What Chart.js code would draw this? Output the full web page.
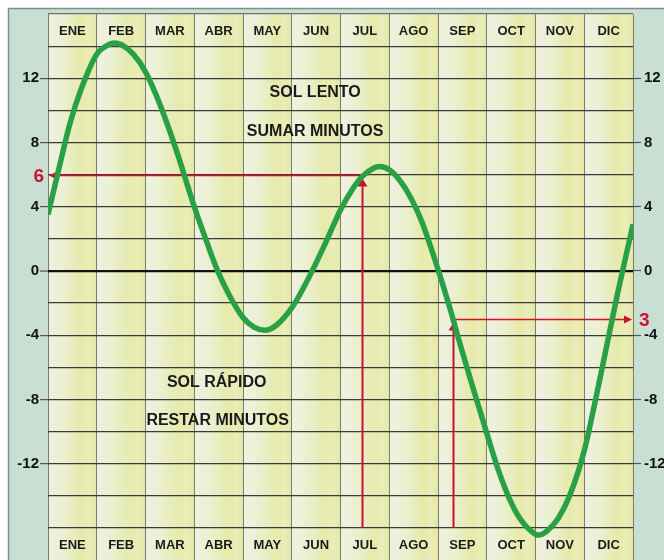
<!DOCTYPE html>
<html><head><meta charset="utf-8">
<script src="https://cdn.jsdelivr.net/npm/chart.js@4/dist/chart.umd.min.js"></script>
<style>html,body{margin:0;padding:0;background:#fff}canvas{display:block}</style>
</head><body>
<canvas id="c" width="664" height="560"></canvas>
<script>
// ---- data ----
const months = ['ENE','FEB','MAR','ABR','MAY','JUN','JUL','AGO','SEP','OCT','NOV','DIC'];
// position along the year in months (0 = 1 ENE, 12 = 31 DIC)
const curveMonth = [0,0.226,0.452,0.677, 1,1.25,1.357,1.5,1.75, 2,2.226,2.452,2.677, 3,3.233,3.467,3.7,
  4,4.226,4.452,4.677, 5,5.233,5.467,5.7, 6,6.226,6.452,6.677,6.806, 7,7.226,7.452,7.677,
  8,8.233,8.467,8.7, 9,9.226,9.452,9.677, 10,10.067,10.233,10.467,10.7, 11,11.226,11.452,11.677,12];
// equation of time, minutes (positive = sol lento)
const curveMinutes = [3.5,6.4,9.2,11.3, 13.5,14.1,14.2,14.1,13.5, 12.4,10.9,9.1,7.1, 4.0,2.0,0.1,-1.4,
  -2.9,-3.5,-3.7,-3.4, -2.3,-1.1,0.3,1.8, 3.8,5.0,5.9,6.4,6.5, 6.3,5.6,4.5,3.0,
  0.1,-2.2,-4.7,-7.1, -10.1,-12.3,-14.1,-15.4, -16.4,-16.45,-16.2,-15.4,-14.0, -11.2,-8.1,-4.8,-1.5,2.9];
const yTickLabels = [12,8,4,0,-4,-8,-12];
// example readings (red arrows)
const readMonth = [6.44, 8.3];
const readMinutes = [6, -3];
const readLabels = ['6','3'];
// notes
const noteText = ['SOL LENTO','SUMAR MINUTOS','SOL RÁPIDO','RESTAR MINUTOS'];
const noteMonth = [5.48, 5.48, 3.46, 3.48];
const noteMinutes = [11.1, 8.7, -6.95, -9.3];

const FONT = '"Liberation Sans", Arial, Helvetica, sans-serif';
const RED = '#cc1030';

const bgPlugin = {
  id: 'bg',
  beforeDraw(chart) {
    const {ctx, chartArea: a, scales: {x}} = chart;
    ctx.save();
    ctx.fillStyle = '#fff'; ctx.fillRect(0, 0, chart.width, chart.height);
    ctx.fillStyle = '#c9dfd3'; ctx.fillRect(8, 8, chart.width - 8, chart.height - 8);
    ctx.strokeStyle = '#7f8f88'; ctx.lineWidth = 1.5;
    ctx.beginPath(); ctx.moveTo(8.5, chart.height); ctx.lineTo(8.5, 8.5); ctx.lineTo(chart.width, 8.5); ctx.stroke();
    for (let i = 0; i < months.length; i++) {
      const x0 = x.getPixelForValue(i), x1 = x.getPixelForValue(i + 1);
      const g = ctx.createLinearGradient(x0, 0, x1, 0);
      g.addColorStop(0, '#eef2e1');
      g.addColorStop(0.3, '#ebf0d3');
      g.addColorStop(0.5, '#e8edbe');
      g.addColorStop(0.7, '#e6eaa9');
      g.addColorStop(0.85, '#eaedb9');
      g.addColorStop(1, '#e4e8a3');
      ctx.fillStyle = g;
      ctx.fillRect(x0, a.top, x1 - x0, a.bottom - a.top);
    }
    ctx.restore();
  }
};

function arrow(ctx, tx, ty, dir) {
  const L = 8, W = 5;
  ctx.beginPath();
  if (dir === 'left') { ctx.moveTo(tx, ty); ctx.lineTo(tx + L, ty - W + 1); ctx.lineTo(tx + L, ty + W - 1); }
  if (dir === 'right') { ctx.moveTo(tx, ty); ctx.lineTo(tx - L, ty - W + 1); ctx.lineTo(tx - L, ty + W - 1); }
  if (dir === 'up') { ctx.moveTo(tx, ty); ctx.lineTo(tx - W, ty + L); ctx.lineTo(tx + W, ty + L); }
  ctx.closePath(); ctx.fill();
}

const redPlugin = {
  id: 'red',
  beforeDatasetsDraw(chart) {
    const {ctx, chartArea: a, scales: {x, y}} = chart;
    ctx.save();
    ctx.strokeStyle = RED; ctx.fillStyle = RED; ctx.lineWidth = 1.6;
    const yb = y.getPixelForValue(-16);
    readMonth.forEach((m, i) => {
      const px = Math.round(x.getPixelForValue(m)) + 0.5;
      const py = Math.round(y.getPixelForValue(readMinutes[i])) + 0.5;
      // vertical
      ctx.lineWidth = 2;
      ctx.beginPath(); ctx.moveTo(px, yb); ctx.lineTo(px, py + 8); ctx.stroke();
      arrow(ctx, px, py + 3, 'up');
      // horizontal
      ctx.lineWidth = 1.6;
      const toLeft = i === 0;
      const ex = toLeft ? a.left + 1 : a.right - 1;
      ctx.beginPath(); ctx.moveTo(px, py); ctx.lineTo(toLeft ? ex + 6 : ex - 6, py); ctx.stroke();
      arrow(ctx, ex, py, toLeft ? 'left' : 'right');
      // label
      ctx.font = 'bold 19px ' + FONT;
      ctx.textBaseline = 'middle';
      ctx.textAlign = toLeft ? 'right' : 'left';
      ctx.fillText(readLabels[i], toLeft ? a.left - 4 : a.right + 6, py + 1);
    });
    ctx.restore();
  },
  afterDatasetsDraw(chart) {
    const {ctx, scales: {x, y}} = chart;
    ctx.save();
    ctx.fillStyle = '#1a1a1a';
    ctx.textAlign = 'center'; ctx.textBaseline = 'middle';
    ctx.font = 'bold 13px ' + FONT;
    months.forEach((m, i) => {
      const px = x.getPixelForValue(i + 0.5);
      ctx.fillText(m, px, y.getPixelForValue(15) + 1);
      ctx.fillText(m, px, y.getPixelForValue(-17) + 1);
    });
    ctx.font = 'bold 16px ' + FONT;
    noteText.forEach((t, i) => {
      ctx.fillText(t, x.getPixelForValue(noteMonth[i]), y.getPixelForValue(noteMinutes[i]));
    });
    ctx.restore();
  }
};

const gridColor = c => {
  if (!c.tick) return '#3a3a3a';
  const v = c.tick.value;
  if (v === 0) return '#111';
  if (v === 16) return '#6f6f6f';
  if (v === -18) return 'rgba(0,0,0,0)';
  return '#3a3a3a';
};
const gridWidth = c => (c.tick && c.tick.value === 0) ? 2.2 : 1.2;
const tickCol = c => (c.tick && yTickLabels.includes(c.tick.value)) ? '#555' : 'rgba(0,0,0,0)';
const tickCb = v => yTickLabels.includes(v) ? String(v) : '';
const noPad = s => { s.paddingTop = 0; s.paddingBottom = 0; };

new Chart(document.getElementById('c'), {
  type: 'line',
  data: {
    datasets: [{
      data: curveMonth.map((m, i) => ({x: m, y: curveMinutes[i]})),
      borderColor: '#2aa046',
      borderWidth: 5.5,
      pointRadius: 0,
      cubicInterpolationMode: 'monotone',
      fill: false
    }]
  },
  options: {
    responsive: false,
    animation: false,
    devicePixelRatio: 1,
    layout: {padding: {top: 14, left: 0, right: 0, bottom: 0}},
    plugins: {legend: {display: false}, tooltip: {enabled: false}},
    scales: {
      x: {
        type: 'linear', min: 0, max: 12,
        ticks: {stepSize: 1, display: false},
        grid: {color: '#7a7d6c', lineWidth: 1, drawTicks: false},
        border: {display: false},
        afterFit: s => { s.height = 0; s.paddingLeft = 0; s.paddingRight = 0; }
      },
      y: {
        type: 'linear', position: 'left', min: -18, max: 16,
        ticks: {stepSize: 2, autoSkip: false, padding: 1, color: '#111',
          font: {family: FONT, size: 15, weight: 'bold'}, callback: tickCb},
        grid: {color: gridColor, lineWidth: gridWidth, tickLength: 8, tickColor: tickCol, tickWidth: 1.2},
        border: {display: false},
        afterFit: s => { s.width = 48; noPad(s); }
      },
      y2: {
        type: 'linear', position: 'right', min: -18, max: 16,
        ticks: {stepSize: 2, autoSkip: false, padding: 3, color: '#111',
          font: {family: FONT, size: 15, weight: 'bold'}, callback: tickCb},
        grid: {drawOnChartArea: false, tickLength: 8, tickColor: tickCol, tickWidth: 1.2},
        border: {display: false},
        afterFit: s => { s.width = 31; noPad(s); }
      }
    }
  },
  plugins: [bgPlugin, redPlugin]
});
</script>
</body></html>
